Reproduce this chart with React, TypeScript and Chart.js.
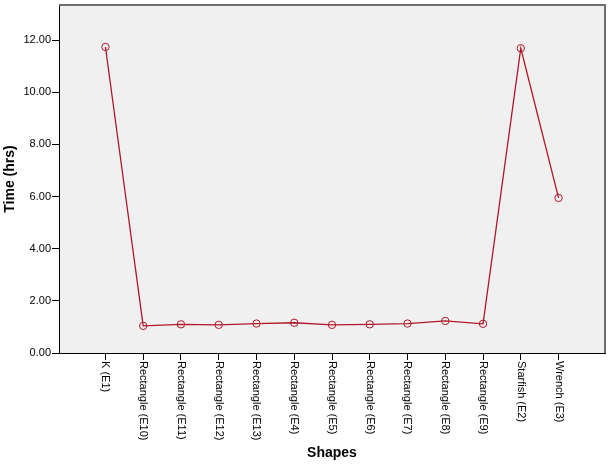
import React, { useEffect, useRef } from "react";
import { Chart, registerables } from "chart.js";

Chart.register(...registerables);

const categories = [
  "K (E1)",
  "Rectangle (E10)",
  "Rectangle (E11)",
  "Rectangle (E12)",
  "Rectangle (E13)",
  "Rectangle (E4)",
  "Rectangle (E5)",
  "Rectangle (E6)",
  "Rectangle (E7)",
  "Rectangle (E8)",
  "Rectangle (E9)",
  "Starfish (E2)",
  "Wrench (E3)",
];
const times = [11.74, 1.04, 1.1, 1.08, 1.13, 1.16, 1.08, 1.1, 1.13, 1.23, 1.12, 11.69, 5.95];
const yTicks = [0, 2, 4, 6, 8, 10, 12];
const yMax = 13.35;
const xMin = -1.23;
const xMax = 13.23;

const FONT = "'Liberation Sans', Arial, sans-serif";
const RED = "#b0182a";

const framePlugin = {
  id: "frame",
  beforeDraw(chart: any) {
    const { ctx, chartArea: a } = chart;
    ctx.save();
    ctx.fillStyle = "#f0f0f0";
    ctx.fillRect(a.left, a.top, a.right - a.left, a.bottom - a.top);
    ctx.restore();
  },
  afterDraw(chart: any) {
    const { ctx, chartArea: a } = chart;
    ctx.save();
    ctx.strokeStyle = "#6e6e6e";
    ctx.lineWidth = 2;
    ctx.beginPath();
    ctx.moveTo(a.left, a.top);
    ctx.lineTo(a.right, a.top);
    ctx.lineTo(a.right, a.bottom);
    ctx.stroke();
    // x tick labels, rotated clockwise
    const xs = chart.scales.x;
    ctx.fillStyle = "#000";
    ctx.font = `11px ${FONT}`;
    ctx.textAlign = "left";
    ctx.textBaseline = "middle";
    categories.forEach((label, i) => {
      const px = xs.getPixelForValue(i);
      ctx.save();
      ctx.translate(px, xs.top + 8);
      ctx.rotate(Math.PI / 2);
      ctx.fillText(label, 0, 0);
      ctx.restore();
    });
    ctx.restore();
  },
};

export default function App() {
  const ref = useRef<HTMLCanvasElement>(null);
  useEffect(() => {
    document.body.style.margin = "0";
    const canvas = ref.current!;
    const chart = new Chart(canvas, {
      type: "line",
      data: {
        datasets: [
          {
            data: categories.map((_, i) => ({ x: i, y: times[i] })),
            borderColor: RED,
            borderWidth: 1.3,
            pointRadius: 3.7,
            pointBorderWidth: 1,
            pointBorderColor: RED,
            pointBackgroundColor: "rgba(0,0,0,0)",
            tension: 0,
            clip: false as any,
          },
        ],
      },
      options: {
        animation: false,
        responsive: false,
        layout: { padding: { top: 2, right: 7, left: 0, bottom: 0 } },
        plugins: { legend: { display: false }, tooltip: { enabled: false } },
        scales: {
          x: {
            type: "linear",
            min: xMin,
            max: xMax,
            afterBuildTicks: (scale: any) => {
              scale.ticks = categories.map((_, i) => ({ value: i }));
            },
            afterFit: (scale: any) => {
              scale.height = 113;
              scale.paddingLeft = 0;
              scale.paddingRight = 0;
              scale.paddingTop = 0;
              scale.paddingBottom = 0;
            },
            ticks: {
              autoSkip: false,
              minRotation: 90,
              maxRotation: 90,
              color: "rgba(0,0,0,0)",
              font: { family: FONT, size: 11 },
              callback: (_v: any, i: number) => categories[i],
            },
            grid: {
              drawOnChartArea: false,
              drawTicks: true,
              tickLength: 7,
              tickColor: "#000",
              color: "#000",
            },
            border: { display: true, color: "#000", width: 1 },
            title: {
              display: true,
              text: "Shapes",
              color: "#000",
              font: { family: FONT, size: 14, weight: "bold" },
              padding: { top: 4, bottom: 4 },
            },
          },
          y: {
            type: "linear",
            min: 0,
            max: yMax,
            afterBuildTicks: (scale: any) => {
              scale.ticks = yTicks.map((v) => ({ value: v }));
            },
            afterFit: (scale: any) => {
              scale.width = 59;
              scale.paddingLeft = 0;
              scale.paddingRight = 0;
              scale.paddingTop = 0;
              scale.paddingBottom = 0;
            },
            ticks: {
              color: "#000",
              padding: 1,
              font: { family: FONT, size: 11 },
              callback: (v: any) => Number(v).toFixed(2),
            },
            grid: {
              drawOnChartArea: false,
              drawTicks: true,
              tickLength: 7,
              tickColor: "#000",
              color: "#000",
            },
            border: { display: true, color: "#000", width: 1 },
            title: {
              display: true,
              text: "Time (hrs)",
              color: "#000",
              font: { family: FONT, size: 14, weight: "bold" },
              padding: { top: 2, bottom: 4 },
            },
          },
        },
      },
      plugins: [framePlugin],
    });
    return () => chart.destroy();
  }, []);
  return <canvas ref={ref} width={612} height={466} style={{ display: "block" }} />;
}
